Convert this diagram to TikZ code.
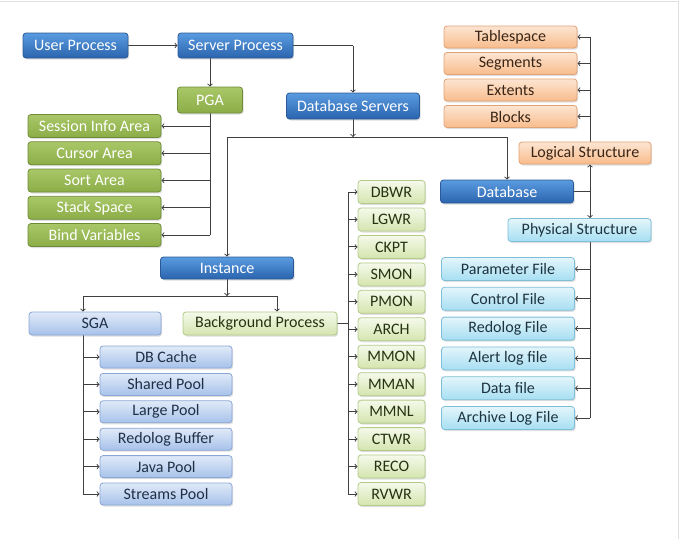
\documentclass[tikz,border=0pt]{standalone}
\usepackage{fontspec}
\setmainfont{Carlito}
\usepackage{tikz}
\usetikzlibrary{shadows}
\pgfdeclarelayer{edgelayer}
\pgfdeclarelayer{nodelayer}
\pgfsetlayers{edgelayer,nodelayer,main}
\definecolor{dbtop}{HTML}{5A9BE0}
\definecolor{dbbot}{HTML}{2A64AE}
\definecolor{dbline}{HTML}{2C5A96}
\definecolor{pgatop}{HTML}{A9C768}
\definecolor{pgabot}{HTML}{8BAD47}
\definecolor{pgaline}{HTML}{6E8B37}
\definecolor{logtop}{HTML}{FDE5D2}
\definecolor{logbot}{HTML}{F8BC8C}
\definecolor{logline}{HTML}{E0A377}
\definecolor{logtext}{HTML}{3A2616}
\definecolor{sgatop}{HTML}{E0EAF8}
\definecolor{sgabot}{HTML}{A7C2EA}
\definecolor{sgaline}{HTML}{8AA6D6}
\definecolor{sgatext}{HTML}{1F2F46}
\definecolor{bgtop}{HTML}{F5F9EB}
\definecolor{bgbot}{HTML}{D4E5AE}
\definecolor{bgline}{HTML}{B3CA88}
\definecolor{bgtext}{HTML}{263310}
\definecolor{phytop}{HTML}{E4F5FB}
\definecolor{phybot}{HTML}{A6DEF2}
\definecolor{phyline}{HTML}{7CBFD6}
\definecolor{phytext}{HTML}{1D3440}
\definecolor{wire}{HTML}{404040}
\tikzstyle{none} = []
\tikzstyle{box} = [rounded corners=3pt, inner sep=0pt, line width=0.8pt, font=\fontsize{16}{19}\selectfont, drop shadow={opacity=0.25, shadow xshift=1.2pt, shadow yshift=-1.5pt}]
\tikzstyle{server box} = [box, draw=dbline, top color=dbtop, bottom color=dbbot, text=white]
\tikzstyle{pga box} = [box, draw=pgaline, top color=pgatop, bottom color=pgabot, text=white]
\tikzstyle{logical box} = [box, draw=logline, top color=logtop, bottom color=logbot, text=logtext]
\tikzstyle{sga box} = [box, draw=sgaline, top color=sgatop, bottom color=sgabot, text=sgatext]
\tikzstyle{process box} = [box, draw=bgline, top color=bgtop, bottom color=bgbot, text=bgtext]
\tikzstyle{physical box} = [box, draw=phyline, top color=phytop, bottom color=phybot, text=phytext]
\tikzstyle{wire line} = [draw=wire, line width=1pt]
\tikzstyle{arrow} = [wire line, ->]
\begin{document}
\begin{tikzpicture}[x=1pt, y=-1pt]
	\useasboundingbox (0, 0) rectangle (680, 539);
	\draw [draw=black!12, line width=1pt] (0, 1) to (678, 1) to (678, 539);
	\begin{pgfonlayer}{nodelayer}
		\node [style=server box, minimum width=105, minimum height=25] (0) at (75.5, 45.5) {User Process};
		\node [style=server box, minimum width=115, minimum height=25] (1) at (235.5, 45.5) {Server Process};
		\node [style=pga box, minimum width=65, minimum height=26] (2) at (210, 100) {PGA};
		\node [style=server box, minimum width=133, minimum height=26] (3) at (353, 106) {Database Servers};
		\node [style=pga box, minimum width=133, minimum height=23] (4) at (94.5, 126) {Session Info Area};
		\node [style=pga box, minimum width=133, minimum height=23] (5) at (94.5, 153.25) {Cursor Area};
		\node [style=pga box, minimum width=133, minimum height=23] (6) at (94.5, 180.5) {Sort Area};
		\node [style=pga box, minimum width=133, minimum height=23] (7) at (94.5, 207.75) {Stack Space};
		\node [style=pga box, minimum width=133, minimum height=23] (8) at (94.5, 235) {Bind Variables};
		\node [style=logical box, minimum width=133, minimum height=22] (9) at (510.5, 37) {Tablespace};
		\node [style=logical box, minimum width=133, minimum height=22] (10) at (510.5, 63.5) {Segments};
		\node [style=logical box, minimum width=133, minimum height=22] (11) at (510.5, 90) {Extents};
		\node [style=logical box, minimum width=133, minimum height=22] (12) at (510.5, 116.5) {Blocks};
		\node [style=logical box, minimum width=132, minimum height=22] (13) at (585, 153) {Logical Structure};
		\node [style=server box, minimum width=133, minimum height=23] (14) at (507, 191.5) {Database};
		\node [style=physical box, minimum width=143, minimum height=23] (15) at (579.5, 230) {Physical Structure};
		\node [style=physical box, minimum width=133, minimum height=23] (16) at (508, 269) {Parameter File};
		\node [style=physical box, minimum width=133, minimum height=23] (17) at (508, 298.8) {Control File};
		\node [style=physical box, minimum width=133, minimum height=23] (18) at (508, 328.6) {Redolog File};
		\node [style=physical box, minimum width=133, minimum height=23] (19) at (508, 358.4) {Alert log file};
		\node [style=physical box, minimum width=133, minimum height=23] (20) at (508, 388.2) {Data file};
		\node [style=physical box, minimum width=133, minimum height=23] (21) at (508, 418) {Archive Log File};
		\node [style=server box, minimum width=133, minimum height=22] (22) at (227, 268) {Instance};
		\node [style=sga box, minimum width=132, minimum height=23] (23) at (95, 323.5) {SGA};
		\node [style=process box, minimum width=154, minimum height=23] (24) at (260, 323.5) {Background Process};
		\node [style=sga box, minimum width=132, minimum height=22] (25) at (166, 357) {DB Cache};
		\node [style=sga box, minimum width=132, minimum height=22] (26) at (166, 384.4) {Shared Pool};
		\node [style=sga box, minimum width=132, minimum height=22] (27) at (166, 411.8) {Large Pool};
		\node [style=sga box, minimum width=132, minimum height=22] (28) at (166, 439.2) {Redolog Buffer};
		\node [style=sga box, minimum width=132, minimum height=22] (29) at (166, 466.6) {Java Pool};
		\node [style=sga box, minimum width=132, minimum height=22] (30) at (166, 494) {Streams Pool};
		\node [style=process box, minimum width=67, minimum height=23] (31) at (391.5, 192) {DBWR};
		\node [style=process box, minimum width=67, minimum height=23] (32) at (391.5, 219.5) {LGWR};
		\node [style=process box, minimum width=67, minimum height=23] (33) at (391.5, 246.9) {CKPT};
		\node [style=process box, minimum width=67, minimum height=23] (34) at (391.5, 274.4) {SMON};
		\node [style=process box, minimum width=67, minimum height=23] (35) at (391.5, 301.8) {PMON};
		\node [style=process box, minimum width=67, minimum height=23] (36) at (391.5, 329.3) {ARCH};
		\node [style=process box, minimum width=67, minimum height=23] (37) at (391.5, 356.7) {MMON};
		\node [style=process box, minimum width=67, minimum height=23] (38) at (391.5, 384.2) {MMAN};
		\node [style=process box, minimum width=67, minimum height=23] (39) at (391.5, 411.6) {MMNL};
		\node [style=process box, minimum width=67, minimum height=23] (40) at (391.5, 439.1) {CTWR};
		\node [style=process box, minimum width=67, minimum height=23] (41) at (391.5, 466.5) {RECO};
		\node [style=process box, minimum width=67, minimum height=23] (42) at (391.5, 494) {RVWR};
		\node [style=none] (43) at (353, 45.5) {};
		\node [style=none] (44) at (353, 137) {};
		\node [style=none] (45) at (227, 137) {};
		\node [style=none] (46) at (507, 137) {};
		\node [style=none] (47) at (210, 126) {};
		\node [style=none] (48) at (210, 153.25) {};
		\node [style=none] (49) at (210, 180.5) {};
		\node [style=none] (50) at (210, 207.75) {};
		\node [style=none] (51) at (210, 235) {};
		\node [style=none] (52) at (590, 37) {};
		\node [style=none] (53) at (590, 63.5) {};
		\node [style=none] (54) at (590, 90) {};
		\node [style=none] (55) at (590, 116.5) {};
		\node [style=none] (56) at (590, 191.5) {};
		\node [style=none] (57) at (590, 269) {};
		\node [style=none] (58) at (590, 298.8) {};
		\node [style=none] (59) at (590, 328.6) {};
		\node [style=none] (60) at (590, 358.4) {};
		\node [style=none] (61) at (590, 388.2) {};
		\node [style=none] (62) at (590, 418) {};
		\node [style=none] (63) at (227, 296) {};
		\node [style=none] (64) at (83, 296) {};
		\node [style=none] (65) at (277, 296) {};
		\node [style=none] (66) at (83, 357) {};
		\node [style=none] (67) at (83, 384.4) {};
		\node [style=none] (68) at (83, 411.8) {};
		\node [style=none] (69) at (83, 439.2) {};
		\node [style=none] (70) at (83, 466.6) {};
		\node [style=none] (71) at (83, 494) {};
		\node [style=none] (72) at (348, 323.5) {};
		\node [style=none] (73) at (348, 192) {};
		\node [style=none] (74) at (348, 219.5) {};
		\node [style=none] (75) at (348, 246.9) {};
		\node [style=none] (76) at (348, 274.4) {};
		\node [style=none] (77) at (348, 301.8) {};
		\node [style=none] (78) at (348, 329.3) {};
		\node [style=none] (79) at (348, 356.7) {};
		\node [style=none] (80) at (348, 384.2) {};
		\node [style=none] (81) at (348, 411.6) {};
		\node [style=none] (82) at (348, 439.1) {};
		\node [style=none] (83) at (348, 466.5) {};
		\node [style=none] (84) at (348, 494) {};
	\end{pgfonlayer}
	\begin{pgfonlayer}{edgelayer}
		\draw [style=arrow] (0) to (1);
		\draw [style=arrow] (1.south -| 2) to (2);
		\draw [style=wire line] (1) to (43.center);
		\draw [style=arrow] (43.center) to (3);
		\draw [style=arrow] (3) to (44.center);
		\draw [style=wire line] (45.center) to (46.center);
		\draw [style=arrow] (45.center) to (22);
		\draw [style=arrow] (46.center) to (14);
		\draw [style=wire line] (2) to (51.center);
		\draw [style=arrow] (47.center) to (4);
		\draw [style=arrow] (48.center) to (5);
		\draw [style=arrow] (49.center) to (6);
		\draw [style=arrow] (50.center) to (7);
		\draw [style=arrow] (51.center) to (8);
		\draw [style=wire line] (14) to (56.center);
		\draw [style=arrow] (56.center) to (13.south -| 56);
		\draw [style=arrow] (56.center) to (15.north -| 56);
		\draw [style=wire line] (13.north -| 56) to (52.center);
		\draw [style=arrow] (52.center) to (9);
		\draw [style=arrow] (53.center) to (10);
		\draw [style=arrow] (54.center) to (11);
		\draw [style=arrow] (55.center) to (12);
		\draw [style=wire line] (15.south -| 56) to (62.center);
		\draw [style=arrow] (57.center) to (16);
		\draw [style=arrow] (58.center) to (17);
		\draw [style=arrow] (59.center) to (18);
		\draw [style=arrow] (60.center) to (19);
		\draw [style=arrow] (61.center) to (20);
		\draw [style=arrow] (62.center) to (21);
		\draw [style=arrow] (22) to (63.center);
		\draw [style=wire line] (64.center) to (65.center);
		\draw [style=arrow] (64.center) to (23.north -| 64);
		\draw [style=arrow] (65.center) to (24.north -| 65);
		\draw [style=wire line] (23.south -| 64) to (71.center);
		\draw [style=arrow] (66.center) to (25);
		\draw [style=arrow] (67.center) to (26);
		\draw [style=arrow] (68.center) to (27);
		\draw [style=arrow] (69.center) to (28);
		\draw [style=arrow] (70.center) to (29);
		\draw [style=arrow] (71.center) to (30);
		\draw [style=wire line] (24) to (72.center);
		\draw [style=wire line] (73.center) to (84.center);
		\draw [style=arrow] (73.center) to (31);
		\draw [style=arrow] (74.center) to (32);
		\draw [style=arrow] (75.center) to (33);
		\draw [style=arrow] (76.center) to (34);
		\draw [style=arrow] (77.center) to (35);
		\draw [style=arrow] (78.center) to (36);
		\draw [style=arrow] (79.center) to (37);
		\draw [style=arrow] (80.center) to (38);
		\draw [style=arrow] (81.center) to (39);
		\draw [style=arrow] (82.center) to (40);
		\draw [style=arrow] (83.center) to (41);
		\draw [style=arrow] (84.center) to (42);
	\end{pgfonlayer}
\end{tikzpicture}
\end{document}
